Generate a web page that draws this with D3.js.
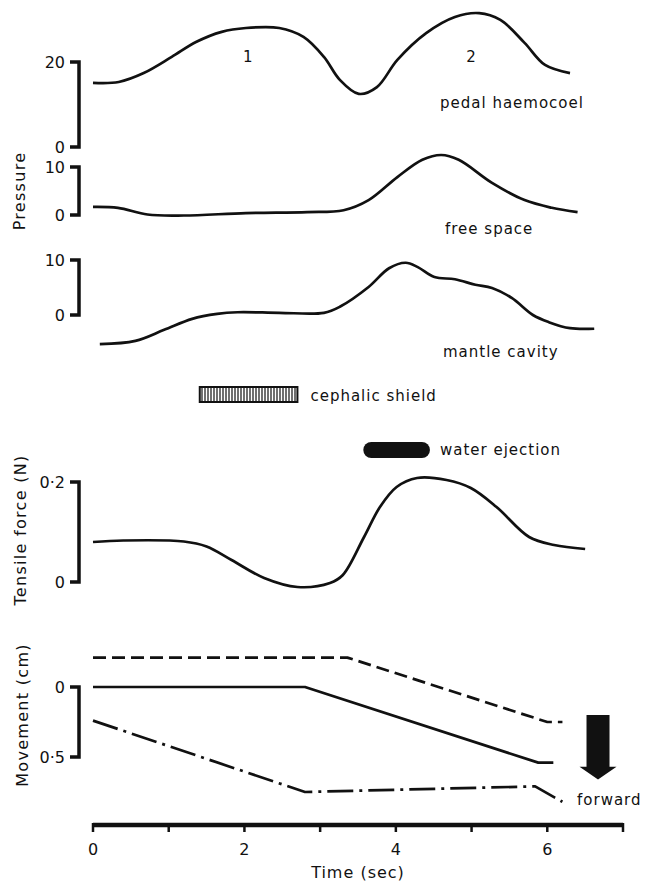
<!DOCTYPE html>
<html>
<head>
<meta charset="utf-8">
<script src="https://cdn.jsdelivr.net/npm/d3@7"></script>
<style>
  body { margin: 0; background: #fff; }
  text { font-family: "DejaVu Sans", sans-serif; fill: #111; }
</style>
</head>
<body>
<div id="chart"></div>
<script>

// ---- data (time in sec) ----
var timeTicks = [0, 1, 2, 3, 4, 5, 6, 7];
var timeLabels = ["0", "", "2", "", "4", "", "6", ""];

var pedalT = [0, 0.34, 0.67, 1.04, 1.36, 1.7, 2.02, 2.46, 2.78, 3.05, 3.26, 3.51, 3.75, 4.02, 4.4, 4.78, 5.1, 5.38, 5.7, 5.97, 6.3];
var pedalP = [15.1, 15.3, 17.4, 21.2, 24.7, 27.1, 28, 28, 25.9, 21.2, 15.8, 12.5, 14.1, 20.5, 26.8, 30.6, 31.5, 29.9, 24.5, 19.3, 17.4];

var freeT = [0, 0.33, 0.72, 1.2, 2.02, 2.83, 3.31, 3.64, 4.02, 4.35, 4.6, 4.83, 5.27, 5.7, 6.06, 6.4];
var freeP = [1.7, 1.5, 0.1, -0.1, 0.4, 0.6, 1.0, 3.1, 7.9, 11.5, 12.5, 11.5, 6.7, 3.1, 1.5, 0.6];

var mantleT = [0.09, 0.56, 0.94, 1.31, 1.64, 1.91, 2.46, 3.05, 3.26, 3.64, 3.91, 4.13, 4.29, 4.51, 4.78, 5.05, 5.27, 5.53, 5.81, 6.02, 6.3, 6.62];
var mantleP = [-5.3, -4.7, -2.7, -0.7, 0.2, 0.5, 0.4, 0.4, 1.5, 5.1, 8.5, 9.5, 8.7, 6.9, 6.5, 5.5, 4.9, 3.1, 0, -1.3, -2.4, -2.5];

var forceT = [0, 0.4, 1.2, 1.5, 1.83, 2.26, 2.7, 3.13, 3.3, 3.58, 3.79, 4.01, 4.28, 4.67, 4.99, 5.33, 5.76, 6.09, 6.5];
var forceN = [0.08, 0.083, 0.081, 0.071, 0.044, 0.008, -0.01, -0.002, 0.014, 0.09, 0.15, 0.19, 0.208, 0.204, 0.188, 0.15, 0.09, 0.074, 0.066];

// movement (cm), downward = forward
var dashT = [0, 3.36, 6.0, 6.2];
var dashCm = [-0.21, -0.21, 0.25, 0.25];
var solidT = [0, 2.8, 5.88, 6.08];
var solidCm = [0, 0, 0.54, 0.54];
var dotDashT = [0, 2.8, 5.84, 6.1, 6.2];
var dotDashCm = [0.24, 0.75, 0.71, 0.79, 0.82];

var shieldSpan = [1.41, 2.7];
var ejectSpan = [3.57, 4.45];

var width = 645, height = 884;

var svg = d3.select("#chart").append("svg")
    .attr("width", width)
    .attr("height", height);

svg.append("rect").attr("width", width).attr("height", height).attr("fill", "#fff");

// hatch pattern for the cephalic shield bar
svg.append("defs").append("pattern")
    .attr("id", "hatch")
    .attr("patternUnits", "userSpaceOnUse")
    .attr("width", 3)
    .attr("height", 4)
    .call(function(p) {
        p.append("rect").attr("width", 3).attr("height", 4).attr("fill", "#fff");
        p.append("line").attr("x1", 1).attr("x2", 1).attr("y1", 0).attr("y2", 4)
            .attr("stroke", "#222").attr("stroke-width", 1.3);
    });

// Scales
var x = d3.scaleLinear().domain([0, 7]).range([93, 623]);

var yPedal = d3.scaleLinear().domain([0, 20]).range([147, 62]);
var yFree = d3.scaleLinear().domain([0, 10]).range([215, 167]);
var yMantle = d3.scaleLinear().domain([0, 10]).range([315, 260]);
var yForce = d3.scaleLinear().domain([0, 0.2]).range([582, 482]);
var yMove = d3.scaleLinear().domain([0, 0.5]).range([687, 757]);

function zip(t, v) {
    return t.map(function(d, i) { return [d, v[i]]; });
}

function drawCurve(t, v, yScale, curve, dash) {
    var line = d3.line()
        .curve(curve)
        .x(function(d) { return x(d[0]); })
        .y(function(d) { return yScale(d[1]); });
    svg.append("path")
        .datum(zip(t, v))
        .attr("d", line)
        .attr("fill", "none")
        .attr("stroke", "#111")
        .attr("stroke-width", 2.7)
        .attr("stroke-linejoin", "round")
        .attr("stroke-dasharray", dash || null);
}

// scale bar "]" with its two labels
function drawBracket(yScale, labels) {
    var d = yScale.domain();
    var y0 = yScale(d[0]), y1 = yScale(d[1]);
    svg.append("path")
        .attr("d", "M70," + y1 + "H79V" + y0 + "H70")
        .attr("fill", "none")
        .attr("stroke", "#111")
        .attr("stroke-width", 3.5);
    svg.selectAll(null)
        .data([[y0, labels[0]], [y1, labels[1]]])
        .enter().append("text")
        .attr("x", 65)
        .attr("y", function(e) { return e[0]; })
        .attr("dy", "0.36em")
        .attr("text-anchor", "end")
        .attr("font-size", "16px")
        .text(function(e) { return e[1]; });
}

function label(txt, lx, ly, size, anchor) {
    svg.append("text")
        .attr("x", lx)
        .attr("y", ly)
        .attr("dy", "0.35em")
        .attr("font-size", (size || 15) + "px")
        .attr("letter-spacing", "1px")
        .attr("text-anchor", anchor || "start")
        .text(txt);
}

function yTitle(txt, cx, cy) {
    svg.append("text")
        .attr("transform", "translate(" + cx + "," + cy + ") rotate(-90)")
        .attr("dy", "0.35em")
        .attr("text-anchor", "middle")
        .attr("font-size", "16px")
        .attr("letter-spacing", "1.3px")
        .text(txt);
}

var smooth = d3.curveCatmullRom.alpha(0.5);

// Pressure traces
drawBracket(yPedal, ["0", "20"]);
drawCurve(pedalT, pedalP, yPedal, smooth);
label("1", x(2.05), 57, 15, "middle");
label("2", x(5.0), 57, 15, "middle");
label("pedal haemocoel", 440, 103);

drawBracket(yFree, ["0", "10"]);
drawCurve(freeT, freeP, yFree, smooth);
label("free space", 445, 229);

drawBracket(yMantle, ["0", "10"]);
drawCurve(mantleT, mantleP, yMantle, smooth);
label("mantle cavity", 443, 352);

yTitle("Pressure", 19, 191);

// event bars
svg.append("rect")
    .attr("x", x(shieldSpan[0]))
    .attr("y", 387)
    .attr("width", x(shieldSpan[1]) - x(shieldSpan[0]))
    .attr("height", 15)
    .attr("fill", "url(#hatch)")
    .attr("stroke", "#111")
    .attr("stroke-width", 2);
label("cephalic shield", x(shieldSpan[1]) + 13, 396);

svg.append("rect")
    .attr("x", x(ejectSpan[0]))
    .attr("y", 442)
    .attr("width", x(ejectSpan[1]) - x(ejectSpan[0]))
    .attr("height", 16)
    .attr("rx", 8)
    .attr("fill", "#111");
label("water ejection", x(ejectSpan[1]) + 10, 450);

// Tensile force
drawBracket(yForce, ["0", "0·2"]);
drawCurve(forceT, forceN, yForce, smooth);
yTitle("Tensile force (N)", 20, 530);

// Movement
drawBracket(yMove, ["0", "0·5"]);
drawCurve(dashT, dashCm, yMove, d3.curveLinear, "13,6");
drawCurve(solidT, solidCm, yMove, d3.curveLinear);
drawCurve(dotDashT, dotDashCm, yMove, d3.curveLinear, "26,6,3,6");
yTitle("Movement (cm)", 22, 715);

// forward arrow
var ax = x(6.67), aTop = yMove(0.2), aNeck = yMove(0.57), aTip = yMove(0.66);
svg.append("path")
    .attr("d", "M" + (ax - 11.5) + "," + aTop + "H" + (ax + 11.5) + "V" + aNeck +
        "H" + (ax + 18.5) + "L" + ax + "," + aTip + "L" + (ax - 18.5) + "," + aNeck +
        "H" + (ax - 11.5) + "Z")
    .attr("fill", "#111");
label("forward", 577, 800);

// Time axis
var axisY = 825;
svg.append("line")
    .attr("x1", x(0)).attr("x2", x(7))
    .attr("y1", axisY).attr("y2", axisY)
    .attr("stroke", "#111")
    .attr("stroke-width", 4.5);

svg.selectAll("line.tick")
    .data(timeTicks)
    .enter().append("line")
    .attr("class", "tick")
    .attr("x1", function(d) { return x(d); })
    .attr("x2", function(d) { return x(d); })
    .attr("y1", axisY - 2)
    .attr("y2", axisY + 7)
    .attr("stroke", "#111")
    .attr("stroke-width", 2.5);

svg.selectAll("text.tlab")
    .data(timeTicks)
    .enter().append("text")
    .attr("class", "tlab")
    .attr("x", function(d) { return x(d); })
    .attr("y", 849)
    .attr("dy", "0.35em")
    .attr("text-anchor", "middle")
    .attr("font-size", "16px")
    .text(function(d, i) { return timeLabels[i]; });

label("Time (sec)", x(3.5), 872, 16, "middle");

</script>
</body>
</html>
